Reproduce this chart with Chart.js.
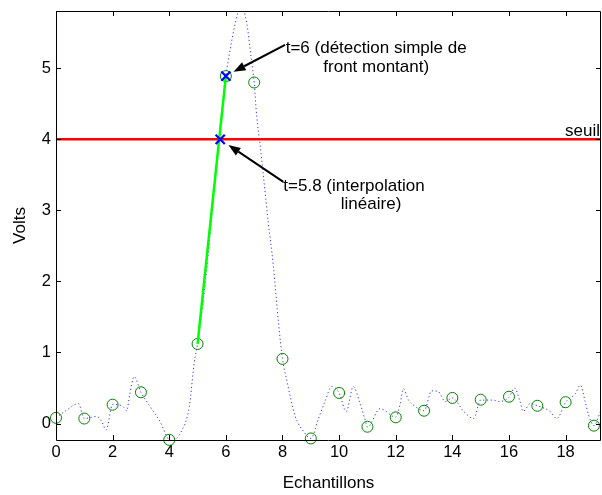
<!DOCTYPE html>
<html>
<head>
<meta charset="utf-8">
<script src="https://cdn.jsdelivr.net/npm/chart.js@4.4.0/dist/chart.umd.min.js"></script>
<style>
  html, body { margin: 0; padding: 0; background: #fff; }
  #wrap { width: 602px; height: 495px; }
</style>
</head>
<body>
<div id="wrap"><canvas id="chart" width="602" height="495"></canvas></div>
<script>
// samples (green circles)
const sampleT = [0, 1, 2, 3, 4, 5, 6, 7, 8, 9, 10, 11, 12, 13, 14, 15, 16, 17, 18, 19];
const sampleV = [0.08, 0.07, 0.265, 0.44, -0.23, 1.12, 4.89, 4.80, 0.91, -0.21,
                 0.43, -0.045, 0.087, 0.18, 0.36, 0.335, 0.377, 0.25, 0.30, -0.03];

// dotted signal
const curveT = [0, 0.38, 0.79, 1.0, 1.44, 1.61, 1.77, 2.0, 2.36, 2.5, 2.6, 2.76, 3.0, 3.32, 3.67, 4.0, 4.1,
                4.44, 4.71, 4.88, 5.0, 5.25, 5.5, 5.75, 6.0, 6.15, 6.33, 6.53, 6.74, 6.86, 6.95, 7.0, 7.09,
                7.21, 7.33, 7.5, 7.68, 7.86, 8.0, 8.15, 8.45, 8.74, 9.0, 9.27, 9.5, 9.74, 10.0, 10.25, 10.5,
                10.74, 10.92, 11.0, 11.45, 12.0, 12.16, 12.27, 12.45, 12.69, 13.0, 13.27, 13.5, 13.75, 14.0,
                14.4, 14.75, 15.0, 15.45, 15.63, 16.0, 16.2, 16.39, 16.5, 16.75, 17.0, 17.45, 17.69, 18.0,
                18.34, 18.52, 18.69, 18.81, 19.0, 19.25];
const curveV = [0.08, 0.19, 0.28, 0.07, 0.10, 0.03, -0.09, 0.27, 0.24, 0.18, 0.40, 0.66, 0.44, 0.24, 0.03, -0.23, -0.24,
                -0.10, 0.24, 0.85, 1.12, 1.9, 2.9, 4.0, 4.89, 5.26, 5.63, 5.88, 5.63, 5.26, 4.97, 4.80, 4.32,
                3.92, 3.47, 2.82, 2.21, 1.41, 0.91, 0.61, 0.10, -0.11, -0.21, 0.07, 0.31, 0.52, 0.43, 0.17, 0.52,
                0.28, 0.05, -0.05, 0.21, 0.09, 0.28, 0.49, 0.33, 0.24, 0.18, 0.46, 0.45, 0.31, 0.36,
                0.17, 0.07, 0.33, 0.33, 0.31, 0.37, 0.50, 0.31, 0.17, 0.28, 0.25, 0.17, 0.07, 0.30,
                0.42, 0.54, 0.31, 0.12, -0.03, 0.19];

const threshold = 4;
const crossT = 5.8;
const detectIdx = 6;

const xTicks = [0, 2, 4, 6, 8, 10, 12, 14, 16, 18];
const yTicks = [0, 1, 2, 3, 4, 5];
const xRange = [0, 19.25];
const yRange = [-0.232, 5.806];

const FONT = '"Liberation Sans", Arial, sans-serif';

// notes: text lines and arrows (data coordinates)
const notes = [
  { lines: ['t=6 (détection simple de', 'front montant)'], x: 11.31, y: [5.28, 5.01], align: 'center',
    arrow: { from: [8.09, 5.33], to: [6.27, 4.95] } },
  { lines: ['t=5.8 (interpolation', 'linéaire)'], x: [8.03, 10.06], y: [3.343, 3.089], align: 'left',
    arrow: { from: [8.03, 3.40], to: [6.09, 3.92] } }
];

const notesPlugin = {
  id: 'notes',
  afterDatasetsDraw(chart) {
    const ctx = chart.ctx, xs = chart.scales.x, ys = chart.scales.y;
    ctx.save();
    ctx.fillStyle = '#000';
    ctx.strokeStyle = '#000';
    ctx.font = '17px ' + FONT;
    ctx.textBaseline = 'middle';
    notes.forEach(n => {
      n.lines.forEach((s, i) => {
        const x = Array.isArray(n.x) ? n.x[i] : n.x;
        ctx.textAlign = n.align;
        ctx.fillText(s, xs.getPixelForValue(x), ys.getPixelForValue(n.y[i]));
      });
      const x0 = xs.getPixelForValue(n.arrow.from[0]), y0 = ys.getPixelForValue(n.arrow.from[1]);
      const x1 = xs.getPixelForValue(n.arrow.to[0]), y1 = ys.getPixelForValue(n.arrow.to[1]);
      const a = Math.atan2(y1 - y0, x1 - x0);
      const L = 12, W = 4.5;
      const bx = x1 - L * Math.cos(a), by = y1 - L * Math.sin(a);
      ctx.lineWidth = 2;
      ctx.beginPath(); ctx.moveTo(x0, y0); ctx.lineTo(bx, by); ctx.stroke();
      ctx.beginPath();
      ctx.moveTo(x1, y1);
      ctx.lineTo(bx + W * Math.sin(a), by - W * Math.cos(a));
      ctx.lineTo(bx - W * Math.sin(a), by + W * Math.cos(a));
      ctx.closePath(); ctx.fill();
    });
    // threshold label
    ctx.textAlign = 'right';
    ctx.textBaseline = 'alphabetic';
    ctx.fillText('seuil', chart.chartArea.right - 1, ys.getPixelForValue(threshold) - 3);
    ctx.restore();
  }
};

// matlab style box with inward ticks
const boxPlugin = {
  id: 'box',
  afterDraw(chart) {
    const ctx = chart.ctx, a = chart.chartArea, xs = chart.scales.x, ys = chart.scales.y;
    const t = 5;
    ctx.save();
    ctx.strokeStyle = '#000';
    ctx.lineWidth = 1;
    ctx.beginPath();
    ctx.rect(Math.round(a.left) + 0.5, Math.round(a.top) + 0.5, Math.round(a.right - a.left) - 1, Math.round(a.bottom - a.top));
    xTicks.forEach(v => {
      const p = Math.round(xs.getPixelForValue(v)) + 0.5;
      ctx.moveTo(p, a.bottom); ctx.lineTo(p, a.bottom - t);
      ctx.moveTo(p, a.top); ctx.lineTo(p, a.top + t);
    });
    yTicks.forEach(v => {
      const p = Math.round(ys.getPixelForValue(v)) + 0.5;
      ctx.moveTo(a.left, p); ctx.lineTo(a.left + t, p);
      ctx.moveTo(a.right, p); ctx.lineTo(a.right - t, p);
    });
    ctx.stroke();
    ctx.restore();
  }
};

Chart.defaults.font.family = FONT;
Chart.defaults.font.size = 16.5;
Chart.defaults.color = '#000';

new Chart(document.getElementById('chart'), {
  type: 'scatter',
  data: {
    datasets: [
      {
        label: 'croisement',
        data: [{ x: crossT, y: threshold }, { x: sampleT[detectIdx], y: sampleV[detectIdx] }],
        pointStyle: 'crossRot', pointRadius: 6.5, borderColor: '#0000ff', borderWidth: 2.2,
        showLine: false, clip: false
      },
      {
        label: 'interpolation',
        data: [{ x: sampleT[5], y: sampleV[5] }, { x: sampleT[detectIdx], y: sampleV[detectIdx] }],
        showLine: true, borderColor: '#00ff00', borderWidth: 2.5, pointRadius: 0
      },
      {
        label: 'seuil',
        data: [{ x: xRange[0], y: threshold }, { x: xRange[1], y: threshold }],
        showLine: true, borderColor: '#ff0000', borderWidth: 2.5, pointRadius: 0
      },
      {
        label: 'echantillons',
        data: sampleT.map((t, i) => ({ x: t, y: sampleV[i] })),
        pointStyle: 'circle', pointRadius: 5.5, borderColor: 'rgb(0,128,0)', backgroundColor: 'rgba(0,0,0,0)',
        borderWidth: 1, showLine: false, clip: false
      },
      {
        label: 'signal',
        data: curveT.map((t, i) => ({ x: t, y: curveV[i] })),
        showLine: true, borderColor: 'rgba(0,0,255,0.8)', borderWidth: 1, borderDash: [1.2, 2.6],
        pointRadius: 0, cubicInterpolationMode: 'monotone'
      }
    ]
  },
  options: {
    responsive: false,
    animation: false,
    layout: { autoPadding: false, padding: { top: 11, right: 1, left: 0, bottom: 0 } },
    plugins: { legend: { display: false }, tooltip: { enabled: false } },
    scales: {
      x: {
        type: 'linear', min: xRange[0], max: xRange[1],
        afterBuildTicks: s => { s.ticks = xTicks.map(v => ({ value: v })); },
        afterFit: s => { s.height = 55; s.paddingLeft = 0; s.paddingRight = 0; },
        grid: { display: false, drawTicks: false },
        border: { display: false },
        ticks: { padding: 3, maxRotation: 0 },
        title: { display: true, text: 'Echantillons', font: { size: 17 }, padding: { top: 0, bottom: 1 } }
      },
      y: {
        type: 'linear', min: yRange[0], max: yRange[1],
        afterBuildTicks: s => { s.ticks = yTicks.map(v => ({ value: v })); },
        afterFit: s => { s.width = 56; s.paddingTop = 0; s.paddingBottom = 0; },
        grid: { display: false, drawTicks: false },
        border: { display: false },
        ticks: { padding: 5 },
        title: { display: true, text: 'Volts', font: { size: 17 }, padding: { top: 10, bottom: 0 } }
      }
    }
  },
  plugins: [notesPlugin, boxPlugin]
});
</script>
</body>
</html>
